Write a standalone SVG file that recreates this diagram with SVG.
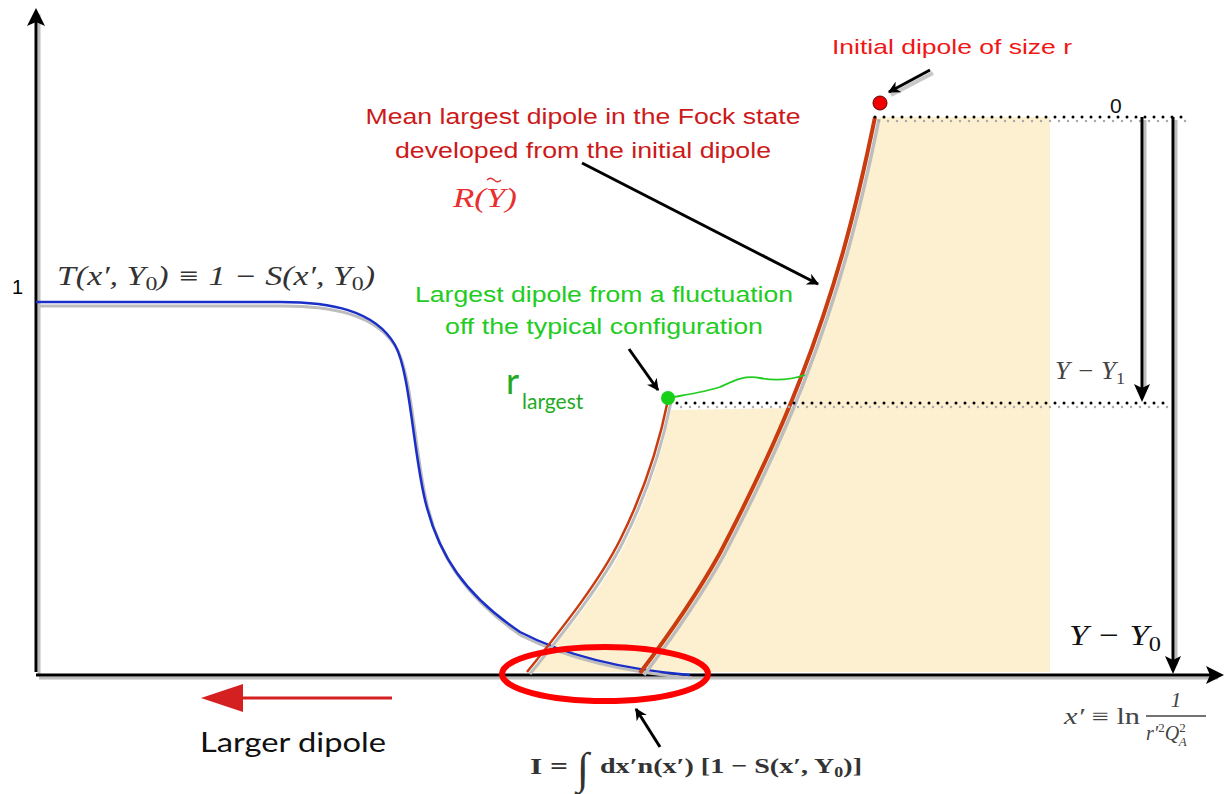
<svg xmlns="http://www.w3.org/2000/svg" width="1225" height="794" viewBox="0 0 1225 794">
<defs>
<style>
.sans{font-family:"Liberation Sans",Arial,sans-serif}
.math{font-family:"Liberation Serif","Times New Roman",serif;font-style:italic}
.bio{font-family:Lato,"Open Sans",sans-serif}
.axis{stroke:#000;stroke-width:3;fill:none}
.shadow{stroke:#bdbdbd;fill:none}
.dots{stroke:#000;stroke-width:3;stroke-linecap:round;stroke-dasharray:0 9;fill:none}
.dotsh{stroke:#aaa;stroke-width:2.5;stroke-linecap:round;stroke-dasharray:0 9;fill:none}
.ptr{stroke:#000;stroke-width:3;fill:none}
</style>
<marker id="ahs" viewBox="0 0 10 10" refX="9" refY="5" markerWidth="4" markerHeight="4" orient="auto" markerUnits="strokeWidth"><path d="M0,0 L10,5 L0,10 L3,5 z" fill="#000"/></marker>
</defs>
<rect width="1225" height="794" fill="#fff"/>
<g id="shading">
<path d="M671,410 C663,448 650,494 625,544 C605,584 570,628 533,672 L1050,672 L1050,117 L879,117 C859,215 839,290 804,382 L798,408 Z" fill="#fdf0d0"/>
</g>
<g id="axes">
<path class="shadow" d="M39,675 V14 M39,678 H1218" stroke-width="3"/>
<path class="axis" d="M36,672 V22"/>
<path d="M36,8 L45,26 L36,22 L27,26 Z" fill="#000"/>
<path class="axis" d="M36,675 H1210"/>
<path d="M1224,675 L1206,684 L1210,675 L1206,666 Z" fill="#000"/>
<text x="12" y="294" class="sans" font-size="20">1</text>
</g>
<g id="blue-curve">
<path class="shadow" stroke-width="3" d="M40,306 L282,306 C332,306 377,314 397,349 C412,376 415,454 427,504 C440,559 467,599 522,636 C572,661 632,673 692,678"/>
<path d="M36,302 L280,302 C330,302 375,310 395,345 C410,372 413,450 425,500 C438,555 465,595 520,632 C570,658 630,670 690,675" fill="none" stroke="#1a2fc8" stroke-width="2.5"/>
<text x="57" y="285" class="math" font-size="27" fill="#333" textLength="318" lengthAdjust="spacingAndGlyphs">T(x′, Y<tspan font-style="normal" font-size="19" dy="5">0</tspan><tspan dy="-5">) ≡ 1 − S(x′, Y</tspan><tspan font-style="normal" font-size="19" dy="5">0</tspan><tspan dy="-5">)</tspan></text>
</g>
<g id="right-curve">
<path class="shadow" stroke-width="3.5" d="M879,119 C859,217 839,292 804,382 C779,447 749,507 724,555 C699,600 669,642 644,675"/>
<path d="M875,117 C855,215 835,290 800,380 C775,445 745,505 720,553 C695,598 665,640 640,673" fill="none" stroke="#c83c10" stroke-width="4"/>
</g>
<g id="left-curve">
<path class="shadow" stroke-width="3" d="M671,402 C663,442 648,492 623,542 C603,582 568,627 530,674"/>
<path d="M668,400 C660,440 645,490 620,540 C600,580 565,625 527,672" fill="none" stroke="#c83c10" stroke-width="2.5"/>
</g>
<g id="levels">
<path class="dotsh" d="M879,121 H1186"/>
<path class="dots" d="M875,117 H1185"/>
<path class="dotsh" d="M681,407 H1172"/>
<path class="dots" d="M677,403 H1170"/>
<text x="1110" y="113" class="sans" font-size="21" fill="#111">0</text>
<path class="shadow" stroke-width="3" d="M1145,120 V390 M1176,120 V665"/>
<path class="axis" d="M1142,117 V390"/>
<path d="M1142,402 L1134,384 L1142,388 L1150,384 Z" fill="#000"/>
<path class="axis" d="M1173,117 V662"/>
<path d="M1173,674 L1165,656 L1173,660 L1181,656 Z" fill="#000"/>
<text x="1055" y="379" class="math" font-size="25" fill="#444" textLength="70" lengthAdjust="spacingAndGlyphs">Y − Y<tspan font-style="normal" font-size="17" dy="5">1</tspan></text>
<text x="1069" y="645" class="math" font-size="30" fill="#111" textLength="92" lengthAdjust="spacingAndGlyphs">Y − Y<tspan font-style="normal" font-size="21" dy="6">0</tspan></text>
<text x="1064" y="724" class="math" font-size="23" fill="#444" textLength="76" lengthAdjust="spacingAndGlyphs">x′ <tspan font-style="normal">≡ ln</tspan></text>
<text x="1176" y="707" class="math" font-size="22" fill="#444" font-style="normal" text-anchor="middle">1</text>
<line x1="1146" y1="716" x2="1206" y2="716" stroke="#444" stroke-width="1.3"/>
<text x="1146" y="740" class="math" font-size="20" fill="#444">r′<tspan font-style="normal" font-size="13" dy="-8">2</tspan><tspan dy="8">Q</tspan><tspan font-style="normal" font-size="13" dy="-8">2</tspan><tspan font-size="13" dx="-7" dy="14">A</tspan></text>
</g>
<g id="initial-dipole">
<text x="832" y="54" class="sans" font-size="21" fill="#f01616" textLength="240" lengthAdjust="spacingAndGlyphs">Initial dipole of size r</text>
<path d="M933,73 L891,95" stroke="#c8c8c8" stroke-width="4" fill="none"/>
<path class="ptr" d="M930,70 L889,92" marker-end="url(#ahs)"/>
<circle cx="880" cy="103" r="7" fill="#f00000" stroke="#600" stroke-width="1"/>
</g>
<g id="mean-label">
<text x="583" y="124" class="sans" font-size="22" fill="#cc1a1a" text-anchor="middle" textLength="435" lengthAdjust="spacingAndGlyphs">Mean largest dipole in the Fock state</text>
<text x="583" y="158" class="sans" font-size="22" fill="#cc1a1a" text-anchor="middle" textLength="376" lengthAdjust="spacingAndGlyphs">developed from the initial dipole</text>
<text x="453" y="207" class="math" font-size="27" fill="#e83030" textLength="64" lengthAdjust="spacingAndGlyphs">R(Y)</text>
<path d="M487,180 q3.5,-3.5 7,0 q3.5,3.5 7,0" stroke="#e83030" stroke-width="1.4" fill="none"/>
<path class="ptr" d="M582,163 L818,284" marker-end="url(#ahs)"/>
</g>
<g id="fluctuation">
<text x="604" y="302" class="sans" font-size="22" fill="#22cc22" text-anchor="middle" textLength="378" lengthAdjust="spacingAndGlyphs">Largest dipole from a fluctuation</text>
<text x="604" y="334" class="sans" font-size="22" fill="#22cc22" text-anchor="middle" textLength="318" lengthAdjust="spacingAndGlyphs">off the typical configuration</text>
<path class="ptr" d="M629,349 L658,390" marker-end="url(#ahs)"/>
<path d="M668,398 C690,394 705,392 720,387 C735,380 745,375 760,378 C775,381 790,380 805,375" fill="none" stroke="#22cc22" stroke-width="1.8"/>
<circle cx="668" cy="398" r="7" fill="#18d018"/>
<text x="506" y="394" class="bio" font-size="36" fill="#22aa22">r</text>
<text x="522" y="409" class="bio" font-size="21" fill="#22aa22">largest</text>
</g>
<g id="integral">
<ellipse cx="605" cy="674" rx="103" ry="27" fill="none" stroke="#f00" stroke-width="6"/>
<path class="ptr" d="M660,747 L636,709" marker-end="url(#ahs)"/>
<text x="530" y="774" font-family="Liberation Serif,'Times New Roman',serif" font-weight="bold" font-size="24" fill="#333" textLength="38" lengthAdjust="spacingAndGlyphs">I =</text>
<text x="577" y="783" font-family="Liberation Serif,'Times New Roman',serif" font-style="italic" font-size="44" fill="#333">∫</text>
<text x="600" y="773" font-family="Liberation Serif,'Times New Roman',serif" font-weight="bold" font-size="22" fill="#333" textLength="262" lengthAdjust="spacingAndGlyphs">dx′n(x′) [1 − S(x′, Y<tspan font-size="14" dy="4">0</tspan><tspan dy="-4">)]</tspan></text>
</g>
<g id="larger-dipole">
<line x1="392" y1="698" x2="226" y2="698" stroke="#d42020" stroke-width="3"/>
<path d="M201,698 L243,684 L243,712 Z" fill="#d42020"/>
<text x="200" y="752" class="bio" font-size="26" fill="#111" textLength="186" lengthAdjust="spacingAndGlyphs">Larger dipole</text>
</g>
</svg>
